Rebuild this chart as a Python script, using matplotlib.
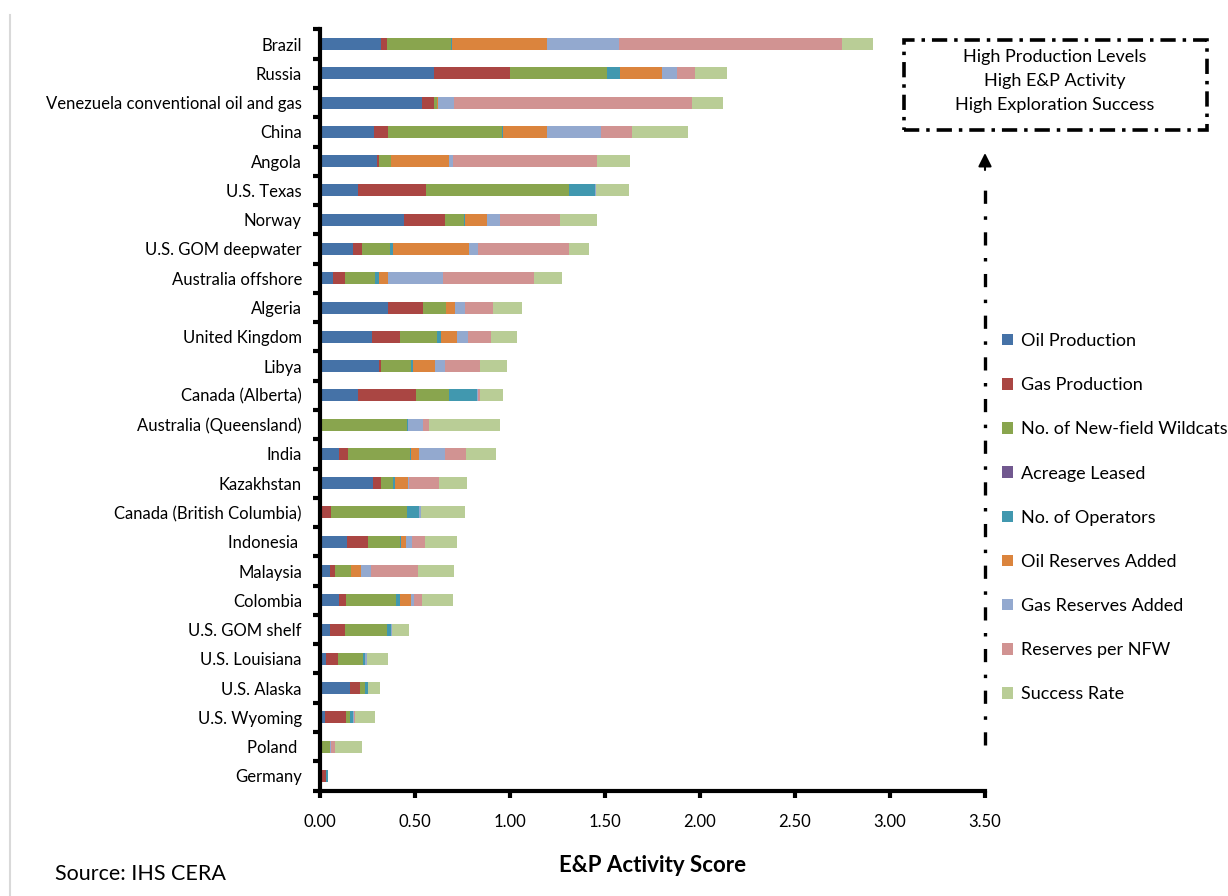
import matplotlib
matplotlib.use("Agg")
import matplotlib.pyplot as plt
from matplotlib.patches import Patch, Rectangle
from matplotlib.lines import Line2D
import numpy as np

plt.rcParams['font.family'] = ['Lato', 'DejaVu Sans']
plt.rcParams['lines.scale_dashes'] = False

countries = ["Brazil", "Russia", "Venezuela conventional oil and gas", "China", "Angola",
             "U.S. Texas", "Norway", "U.S. GOM deepwater", "Australia offshore", "Algeria",
             "United Kingdom", "Libya", "Canada (Alberta)", "Australia (Queensland)", "India",
             "Kazakhstan", "Canada (British Columbia)", "Indonesia ", "Malaysia", "Colombia",
             "U.S. GOM shelf", "U.S. Louisiana", "U.S. Alaska", "U.S. Wyoming", "Poland ", "Germany"]

oil_production = [0.320, 0.600, 0.537, 0.286, 0.302, 0.202, 0.444, 0.175, 0.068, 0.360, 0.275, 0.311, 0.202,
                  0.000, 0.102, 0.281, 0.000, 0.144, 0.053, 0.102, 0.054, 0.032, 0.160, 0.026, 0.000, 0.000]
gas_production = [0.035, 0.398, 0.063, 0.072, 0.007, 0.356, 0.214, 0.048, 0.064, 0.184, 0.148, 0.010, 0.303,
                  0.000, 0.044, 0.040, 0.058, 0.109, 0.028, 0.035, 0.079, 0.064, 0.049, 0.111, 0.000, 0.032]
new_field_wildcats = [0.335, 0.514, 0.016, 0.598, 0.065, 0.754, 0.102, 0.144, 0.156, 0.121, 0.193, 0.160, 0.176,
                      0.460, 0.328, 0.065, 0.402, 0.166, 0.080, 0.265, 0.220, 0.129, 0.030, 0.023, 0.051, 0.000]
acreage_leased = [0.000, 0.000, 0.000, 0.000, 0.000, 0.000, 0.000, 0.000, 0.000, 0.000, 0.000, 0.000, 0.000,
                  0.000, 0.000, 0.000, 0.000, 0.000, 0.000, 0.000, 0.000, 0.000, 0.000, 0.000, 0.000, 0.000]
operators = [0.007, 0.069, 0.000, 0.007, 0.000, 0.137, 0.005, 0.017, 0.021, 0.000, 0.021, 0.007, 0.145,
             0.005, 0.007, 0.009, 0.061, 0.009, 0.000, 0.019, 0.021, 0.012, 0.014, 0.014, 0.000, 0.008]
oil_reserves_added = [0.498, 0.219, 0.007, 0.232, 0.305, 0.000, 0.114, 0.402, 0.049, 0.047, 0.084, 0.117, 0.000,
                      0.000, 0.042, 0.070, 0.000, 0.023, 0.055, 0.058, 0.000, 0.000, 0.000, 0.000, 0.000, 0.000]
gas_reserves_added = [0.380, 0.080, 0.084, 0.286, 0.023, 0.005, 0.070, 0.044, 0.291, 0.053, 0.058, 0.055, 0.006,
                      0.079, 0.137, 0.005, 0.011, 0.035, 0.051, 0.014, 0.007, 0.010, 0.000, 0.004, 0.007, 0.000]
reserves_per_nfw = [1.172, 0.094, 1.251, 0.163, 0.756, 0.000, 0.312, 0.482, 0.477, 0.146, 0.121, 0.184, 0.010,
                    0.028, 0.108, 0.156, 0.000, 0.065, 0.249, 0.044, 0.000, 0.000, 0.000, 0.004, 0.023, 0.000]
success_rate = [0.165, 0.168, 0.163, 0.293, 0.174, 0.171, 0.199, 0.106, 0.149, 0.152, 0.135, 0.140, 0.121,
                0.377, 0.158, 0.146, 0.233, 0.170, 0.191, 0.163, 0.086, 0.113, 0.064, 0.106, 0.142, 0.000]

series_names = ["Oil Production", "Gas Production", "No. of New-field Wildcats", "Acreage Leased",
                "No. of Operators", "Oil Reserves Added", "Gas Reserves Added", "Reserves per NFW",
                "Success Rate"]
series_values = [oil_production, gas_production, new_field_wildcats, acreage_leased, operators,
                 oil_reserves_added, gas_reserves_added, reserves_per_nfw, success_rate]
series_colors = ["#4572A7", "#AA4643", "#89A54E", "#71588F", "#4198AF",
                 "#DB843D", "#93A9CF", "#D19392", "#B9CD96"]

W, H = 1228, 896
fig = plt.figure(figsize=(W / 100, H / 100), dpi=100)


def fx(x):
    return x / W


def fy(y):
    return 1 - y / H


ax = fig.add_axes([fx(320), fy(790.6), fx(985) - fx(320), fy(29.4) - fy(790.6)])

ypos = np.arange(len(countries))
left = np.zeros(len(countries))
for name, vals, col in zip(series_names, series_values, series_colors):
    vals = np.array(vals)
    ax.barh(ypos, vals, left=left, height=0.41, color=col, edgecolor='none', label=name)
    left += vals

ax.set_xlim(0, 3.5)
ax.set_ylim(len(countries) - 0.5, -0.5)

ax.set_xticks(np.arange(0, 3.51, 0.5))
ax.set_xticklabels([f"{v:.2f}" for v in np.arange(0, 3.51, 0.5)], fontsize=12)
ax.set_yticks(ypos)
ax.set_yticklabels(countries, fontsize=12)
ax.set_yticks(np.arange(-0.5, len(countries), 1.0), minor=True)
ax.tick_params(axis='y', which='major', length=0, pad=13)
ax.tick_params(axis='y', which='minor', length=5, width=3, direction='out')
ax.tick_params(axis='x', which='major', length=5, width=3, direction='out', pad=12)

for s in ['top', 'right']:
    ax.spines[s].set_visible(False)
for s in ['left', 'bottom']:
    ax.spines[s].set_linewidth(3)
    ax.spines[s].set_color('black')

ax.set_xlabel("E&P Activity Score", fontsize=16, fontweight='bold', labelpad=18)

handles = [Patch(facecolor=c, edgecolor='none') for c in series_colors]
fig.legend(handles, series_names, loc='upper left', bbox_to_anchor=(fx(1002), fy(333)),
           frameon=False, fontsize=13, handlelength=0.6, handleheight=0.6,
           handletextpad=0.45, labelspacing=1.56, borderaxespad=0, borderpad=0)

# annotation box, dash-dot outline
box_style = (0, (11, 5, 2.5, 5))
fig.add_artist(Rectangle((fx(904), fy(130)), fx(1207) - fx(904), fy(40) - fy(130),
                         transform=fig.transFigure, fill=False, edgecolor='black',
                         linewidth=2.6, linestyle=box_style))
for i, line in enumerate(["High Production Levels", "High E&P Activity", "High Exploration Success"]):
    fig.text(fx(1055), fy(57 + 24 * i), line, ha='center', va='center', fontsize=13)

# vertical dash-dot guide with arrowhead pointing at the box
fig.add_artist(Line2D([fx(985), fx(985)], [fy(745), fy(178)], transform=fig.transFigure,
                      color='black', linewidth=2.4, linestyle=(0, (9.5, 9, 2.5, 9))))
fig.add_artist(plt.Annotation("", xy=(fx(985), fy(153)), xytext=(fx(985), fy(170)),
                              xycoords='figure fraction', textcoords='figure fraction',
                              arrowprops=dict(arrowstyle="-|>,head_length=0.8,head_width=0.4",
                                              color='black', linewidth=1.5, shrinkA=0, shrinkB=0)))

# thin frame edge on the left
fig.add_artist(Line2D([fx(10), fx(10)], [fy(15), fy(896)], transform=fig.transFigure,
                      color='#d9d9d9', linewidth=1.5))

fig.text(fx(55), fy(874), "Source: IHS CERA", ha='left', va='center', fontsize=15.5)

fig.savefig("out.png", dpi=100)
